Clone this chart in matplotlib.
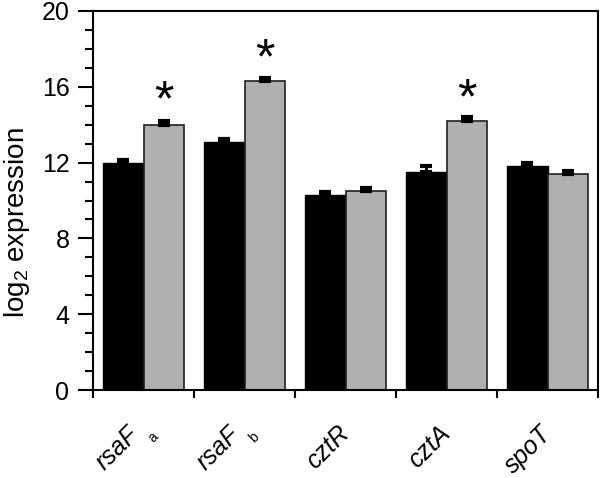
import numpy as np
import matplotlib
matplotlib.use("Agg")
import matplotlib.pyplot as plt

plt.rcParams['font.family'] = ['Liberation Sans', 'DejaVu Sans']
plt.rcParams['mathtext.fontset'] = 'custom'
plt.rcParams['mathtext.rm'] = 'Liberation Sans'
plt.rcParams['mathtext.it'] = 'Liberation Sans:italic'

# data
genes = ['rsaF', 'rsaF', 'cztR', 'cztA', 'spoT']
subs = ['a', 'b', '', '', '']
black_vals = [12.0, 13.07, 10.3, 11.5, 11.8]
black_err = [0.15, 0.2, 0.13, 0.3, 0.2]
gray_vals = [14.0, 16.3, 10.5, 14.2, 11.4]
gray_err = [0.2, 0.15, 0.15, 0.2, 0.17]
star_pos = [15.2, 17.4, None, 15.3, None]

fig = plt.figure(figsize=(6, 4.78), dpi=100)
ax = fig.add_axes([0.155, 0.184, 0.842, 0.793])

x = np.arange(len(genes))
w = 0.4
ekw = dict(elinewidth=2, capthick=3, capsize=4.5, ecolor='black')
ax.bar(x + 0.3, black_vals, w, color='black', edgecolor='black', linewidth=1,
       yerr=[np.zeros(5), black_err], error_kw=ekw)
ax.bar(x + 0.7, gray_vals, w, color='#b0b0b0', edgecolor='#202020', linewidth=1.2,
       yerr=[np.zeros(5), gray_err], error_kw=ekw)

for i, s in enumerate(star_pos):
    if s is not None:
        ax.text(i + 0.7, s, '*', ha='center', va='center', fontsize=36)

ax.set_xlim(0, 5)
ax.set_ylim(0, 20)
ax.set_yticks(np.arange(0, 21, 4))
ax.set_yticks(np.arange(0, 21, 1), minor=True)
ax.set_xticks(np.arange(0, 6, 1))
ax.set_xticklabels([])
ax.tick_params(axis='y', which='major', length=11, width=1.5, labelsize=18,
               direction='out', pad=6)
ax.tick_params(axis='y', which='minor', length=6, width=1.5, direction='out')
ax.tick_params(axis='x', which='major', length=6, width=1.5, direction='out')
for sp in ax.spines.values():
    sp.set_linewidth(1.5)

for i, (g, s) in enumerate(zip(genes, subs)):
    if s:
        ax.text(i + 0.33, -1.7, g, rotation=45, ha='right', va='top',
                rotation_mode='anchor', fontsize=18, style='italic')
        ax.text(i + 0.57, -2.1, s, rotation=45, ha='right', va='top',
                rotation_mode='anchor', fontsize=10)
    else:
        ax.text(i + 0.42, -1.65, g, rotation=45, ha='right', va='top',
                rotation_mode='anchor', fontsize=18, style='italic')

ax.set_ylabel(r'log$_2$ expression', fontsize=20)
ax.yaxis.set_label_coords(-0.12, 0.442)

fig.savefig('out.png', dpi=100)
